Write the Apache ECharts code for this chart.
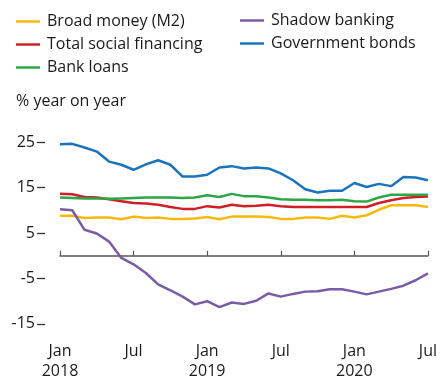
<!DOCTYPE html>
<html>
<head>
<meta charset="utf-8">
<script src="https://cdn.jsdelivr.net/npm/echarts/dist/echarts.min.js"></script>
<style>
  html, body { margin: 0; padding: 0; background: #fff; }
  #chart { width: 440px; height: 381px; }
</style>
</head>
<body>
<div id="chart"></div>
<script>
// Monthly categories, Jan 2018 – Jul 2020
const months = [
  '2018-01','2018-02','2018-03','2018-04','2018-05','2018-06',
  '2018-07','2018-08','2018-09','2018-10','2018-11','2018-12',
  '2019-01','2019-02','2019-03','2019-04','2019-05','2019-06',
  '2019-07','2019-08','2019-09','2019-10','2019-11','2019-12',
  '2020-01','2020-02','2020-03','2020-04','2020-05','2020-06','2020-07'
];

// Labels shown every six months on the x axis
const xTickLabels = ['Jan\n2018', 'Jul', 'Jan\n2019', 'Jul', 'Jan\n2020', 'Jul'];

// Y axis tick values
const yTicks = [-15, -5, 5, 15, 25];

// Growth rates, % year on year
const broadMoney = [8.8, 8.8, 8.3, 8.4, 8.4, 8.0, 8.6, 8.3, 8.4, 8.1, 8.1, 8.2,
  8.5, 8.0, 8.6, 8.6, 8.6, 8.5, 8.1, 8.1, 8.4, 8.4, 8.1, 8.8,
  8.4, 8.9, 10.1, 11.1, 11.1, 11.1, 10.7];
const totalSocialFinancing = [13.6, 13.5, 12.9, 12.8, 12.4, 12.0, 11.6, 11.5, 11.2, 10.7, 10.3, 10.3,
  10.9, 10.6, 11.2, 10.9, 11.0, 11.2, 10.9, 10.7, 10.7, 10.7, 10.7, 10.7,
  10.7, 10.7, 11.6, 12.2, 12.7, 12.9, 13.0];
const bankLoans = [12.8, 12.7, 12.6, 12.6, 12.5, 12.6, 12.7, 12.8, 12.8, 12.8, 12.7, 12.8,
  13.3, 12.9, 13.6, 13.1, 13.1, 12.8, 12.4, 12.3, 12.3, 12.2, 12.2, 12.3,
  12.0, 11.9, 12.8, 13.4, 13.4, 13.4, 13.4];
const shadowBanking = [10.2, 10.0, 5.7, 4.9, 3.1, -0.5, -1.9, -3.8, -6.3, -7.6, -9.0, -10.7,
  -10.0, -11.3, -10.3, -10.6, -9.9, -8.3, -9.0, -8.4, -7.9, -7.8, -7.4, -7.4,
  -7.9, -8.5, -7.9, -7.3, -6.6, -5.4, -3.9];
const governmentBonds = [24.5, 24.6, 23.8, 22.9, 20.7, 20.0, 18.9, 20.1, 21.0, 20.0, 17.4, 17.4,
  17.8, 19.4, 19.7, 19.2, 19.4, 19.2, 18.1, 16.6, 14.6, 13.9, 14.3, 14.3,
  16.0, 15.1, 15.8, 15.3, 17.3, 17.2, 16.6];

const FONT = 'Open Sans';
const TEXT = '#1a1a1a';
const AXIS = '#555';

const seriesDefs = [
  { name: 'Broad money (M2)', data: broadMoney, color: '#f7b90f' },
  { name: 'Total social financing', data: totalSocialFinancing, color: '#cf2027' },
  { name: 'Bank loans', data: bankLoans, color: '#2ca646' },
  { name: 'Shadow banking', data: shadowBanking, color: '#7c5ba6' },
  { name: 'Government bonds', data: governmentBonds, color: '#1b72bd' }
];

const everySix = (i) => i % 6 === 0;

const legendBase = {
  orient: 'vertical',
  icon: 'rect',
  itemWidth: 24,
  itemHeight: 2.5,
  itemGap: 4,
  padding: 0,
  textStyle: { fontFamily: FONT, fontSize: 16, color: TEXT, lineHeight: 19, padding: [0, 0, 0, 2] }
};

const chart = echarts.init(document.getElementById('chart'), null, { renderer: 'canvas' });

chart.setOption({
  animation: false,
  backgroundColor: '#fff',
  textStyle: { fontFamily: FONT },
  legend: [
    Object.assign({}, legendBase, {
      left: 16, top: 12,
      data: ['Broad money (M2)', 'Total social financing', 'Bank loans']
    }),
    Object.assign({}, legendBase, {
      left: 240, top: 11,
      data: ['Shadow banking', 'Government bonds']
    })
  ],
  graphic: [{
    type: 'text',
    left: 16,
    top: 93,
    style: { text: '% year on year', font: '16px "' + FONT + '"', fill: TEXT }
  }],
  grid: { left: 60, right: 8, top: 128.4, bottom: 41.1 },
  xAxis: [
    {
      type: 'category',
      data: months,
      boundaryGap: false,
      position: 'bottom',
      axisLine: { show: false, onZero: false },
      axisTick: { show: false },
      splitLine: { show: false },
      axisLabel: {
        interval: (i) => everySix(i),
        formatter: (value, index) => xTickLabels[index / 6] || '',
        fontFamily: FONT, fontSize: 16, color: TEXT, lineHeight: 20, margin: 8
      }
    },
    {
      type: 'category',
      data: months,
      boundaryGap: false,
      position: 'bottom',
      axisLine: { show: true, onZero: true, lineStyle: { color: AXIS, width: 1.5 } },
      axisTick: { show: true, inside: true, length: 5, interval: (i) => everySix(i), lineStyle: { color: AXIS, width: 1.2 } },
      axisLabel: { show: false },
      splitLine: { show: false }
    }
  ],
  yAxis: {
    type: 'value',
    min: -17,
    max: 28,
    offset: 15,
    axisLine: { show: false },
    splitLine: { show: false },
    axisTick: { show: true, length: 8, customValues: yTicks, lineStyle: { color: '#333', width: 1.3 } },
    axisLabel: {
      customValues: yTicks, margin: 10, padding: [0, 0, 6, 0],
      fontFamily: FONT, fontSize: 16, color: TEXT
    }
  },
  series: seriesDefs.map((s) => ({
    name: s.name,
    type: 'line',
    xAxisIndex: 0,
    data: s.data,
    symbol: 'none',
    color: s.color,
    lineStyle: { width: 2.5, color: s.color },
    z: 3
  }))
});
</script>
</body>
</html>
